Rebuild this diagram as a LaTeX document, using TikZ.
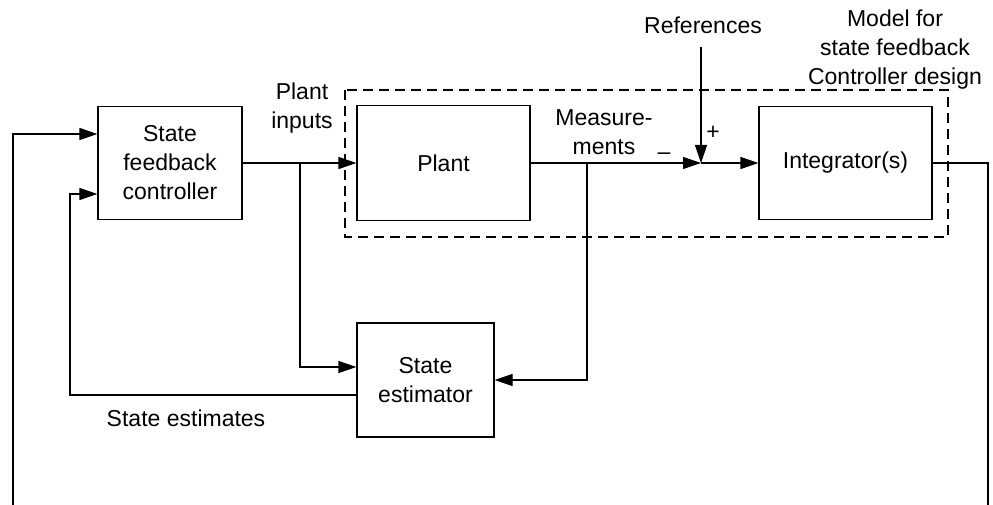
\documentclass[tikz,border=0pt]{standalone}
\usepackage{fontspec}
\setmainfont{Liberation Sans}
\usetikzlibrary{arrows.meta}
\begin{document}
\begin{tikzpicture}[x=1pt,y=-1pt,
  txt/.style={font=\fontsize{23}{29}\selectfont, align=center, inner sep=0pt},
  blk/.style={draw, line width=1.2pt, txt},
  ln/.style={line width=1.2pt},
  arr/.style={ln, -{Triangle[length=18pt,width=12pt]}},
  dashbox/.style={draw, line width=1.2pt, dash pattern=on 10pt off 6pt}
]
\useasboundingbox (0,0) rectangle (993,505);
% blocks
\node[blk, minimum width=144pt, minimum height=113pt] (sfc) at (170,163) {State\\feedback\\controller};
\node[blk, minimum width=173pt, minimum height=115pt] (plant) at (443.5,163) {Plant};
\node[blk, minimum width=173pt, minimum height=113pt] (integ) at (845.5,163) {Integrator(s)};
\node[blk, minimum width=137pt, minimum height=114pt] (est) at (425.5,380) {State\\estimator};
% dashed model box
\draw[dashbox] (345,90) rectangle (948,237);
% coordinates
\coordinate (sum) at (701,163);
\coordinate (refin) at (701,47);
\coordinate (b1) at (300,163);
\coordinate (b2) at (587,163);
\coordinate (outR) at (988,505);
\coordinate (outL) at (13,505);
\coordinate (fbx) at (70,395);
% connectors
\draw[arr] (sfc.east) -- (plant.west);
\draw[arr] (b1) |- ([yshift=13pt]est.west);
\draw[arr] (plant.east) -- (sum);
\draw[arr] (refin) -- (sum);
\draw[arr] (sum) -- (integ.west);
\draw[arr] (b2) |- (est.east);
\draw[arr] ([yshift=-15pt]est.west) -- (fbx) |- ([yshift=-31pt]sfc.west);
\draw[ln] (integ.east) -| (outR);
\draw[arr] (outL) |- ([yshift=29pt]sfc.west);
% labels
\node[txt] (lpi) at (302,108) {Plant\\inputs};
\node[txt] (lmeas) at (604,132) {Measure-\\ments};
\node[txt] (lref) at (703,25) {References};
\node[txt] (lmodel) at (895,50) {Model for\\state feedback\\Controller design};
\node[txt] (lse) at (186,418) {State estimates};
\node[txt] (lplus) at (713,133) {+};
\node[txt] (lminus) at (664,156) {–};
\end{tikzpicture}
\end{document}
